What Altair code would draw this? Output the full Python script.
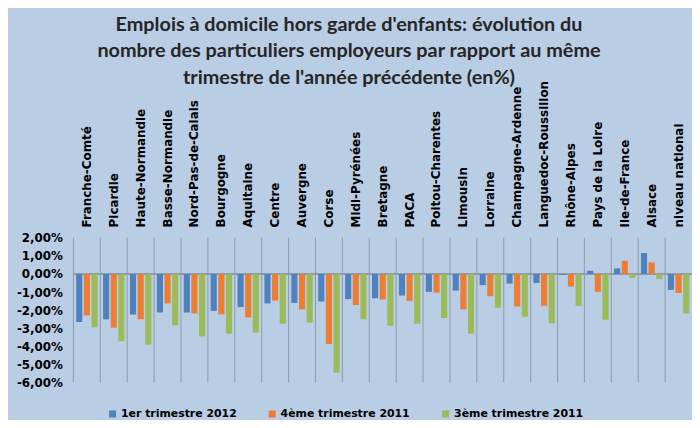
import altair as alt
import pandas as pd

regions = ["Franche-Comté", "Picardie", "Haute-Normandie", "Basse-Normandie",
           "Nord-Pas-de-Calais", "Bourgogne", "Aquitaine", "Centre", "Auvergne",
           "Corse", "Midi-Pyrénées", "Bretagne", "PACA", "Poitou-Charentes",
           "Limousin", "Lorraine", "Champagne-Ardenne", "Languedoc-Roussillon",
           "Rhône-Alpes", "Pays de la Loire", "Ile-de-France", "Alsace",
           "niveau national"]
series = ["1er trimestre 2012", "4ème trimestre 2011", "3ème trimestre 2011"]
t1_2012 = [-2.66, -2.51, -2.24, -2.13, -2.13, -2.04, -1.83, -1.63, -1.60, -1.52,
           -1.39, -1.34, -1.19, -0.99, -0.92, -0.62, -0.53, -0.50, -0.05, 0.18,
           0.31, 1.16, -0.88]
t4_2011 = [-2.29, -2.97, -2.50, -1.63, -2.18, -2.22, -2.40, -1.47, -1.96, -3.87,
           -1.72, -1.41, -1.49, -1.03, -1.96, -1.23, -1.80, -1.76, -0.70, -0.99,
           0.73, 0.64, -1.05]
t3_2011 = [-2.95, -3.72, -3.91, -2.84, -3.45, -3.30, -3.23, -2.75, -2.70, -5.45,
           -2.50, -2.86, -2.75, -2.44, -3.30, -1.87, -2.37, -2.73, -1.76, -2.53,
           -0.22, -0.28, -2.18]
y_ticks = [2, 1, 0, -1, -2, -3, -4, -5, -6]
colors = ["#4F81BD", "#ED7D31", "#9BBB59"]
title_lines = ["Emplois à domicile hors garde d'enfants:  évolution du",
               "nombre des particuliers employeurs par rapport au même",
               "trimestre de l'année précédente (en%)"]

rows = []
for s, vals in zip(series, [t1_2012, t4_2011, t3_2011]):
    for r, v in zip(regions, vals):
        rows.append({"region": r, "serie": s, "value": v})
df = pd.DataFrame(rows)
df_reg = pd.DataFrame({"region": regions})

bg = "#B9CDE5"
xscale = alt.Scale(domain=regions, paddingInner=0, paddingOuter=0)
yscale = alt.Scale(domain=[-6, 2], nice=False)

xaxis = alt.Axis(orient="top", title=None, labelAngle=270,
                 labelAlign="left", labelBaseline="middle",
                 labelPadding=11, ticks=False, domain=False, grid=False,
                 labelFont="DejaVu Sans", labelFontWeight="bold",
                 labelFontSize=12, labelColor="#000000",
                 labelLimit=300, labelOverlap=False)

yaxis = alt.Axis(title=None, values=y_ticks,
                 labelExpr="(datum.value < 0 ? '-' : '') + replace(format(abs(datum.value), '.2f'), '.', ',') + '%'",
                 grid=False, ticks=False, domain=False, labelPadding=11,
                 labelOverlap=False,
                 labelFont="DejaVu Sans", labelFontWeight="bold",
                 labelFontSize=12, labelColor="#000000")

bars = alt.Chart(df).mark_bar().encode(
    x=alt.X("region:N", sort=regions, scale=xscale, axis=xaxis),
    xOffset=alt.XOffset("serie:N", sort=series,
                        scale=alt.Scale(domain=series, paddingInner=0.2, paddingOuter=0.36)),
    y=alt.Y("value:Q", scale=yscale, axis=yaxis),
    color=alt.Color("serie:N", sort=series,
                    scale=alt.Scale(domain=series, range=colors),
                    legend=alt.Legend(title=None, orient="none", legendX=34, legendY=172,
                                      direction="horizontal", symbolType="square",
                                      symbolSize=50, symbolStrokeWidth=0,
                                      labelFont="DejaVu Sans", labelFontWeight="bold",
                                      labelFontSize=11, labelColor="#000000",
                                      columnPadding=30, labelOffset=3)),
)

seps = alt.Chart(df_reg).mark_rule(color="#8E9BAA", strokeWidth=1).encode(
    x=alt.X("region:N", sort=regions, scale=xscale, bandPosition=0, axis=xaxis),
    y=alt.datum(2, scale=yscale, axis=yaxis),
    y2=alt.datum(-6),
)

zero = alt.Chart(df_reg).mark_rule(color="#8E9BAA", strokeWidth=1.5).encode(
    y=alt.datum(0, scale=yscale, axis=yaxis),
)

chart = alt.layer(seps, zero, bars).properties(
    width=624, height=146,
    autosize=alt.AutoSizeParams(type="none"),
    padding={"left": 66, "top": 230, "right": 0, "bottom": 36},
    background=bg,
    title=alt.TitleParams(text=title_lines, anchor="middle", font="Lato",
                          fontWeight="bold", fontSize=20, color="#262626",
                          lineHeight=27, offset=8, dx=-34, dy=16),
).configure_view(stroke=None)

chart.save("out.html", embed_options={"renderer": "svg", "actions": False})
